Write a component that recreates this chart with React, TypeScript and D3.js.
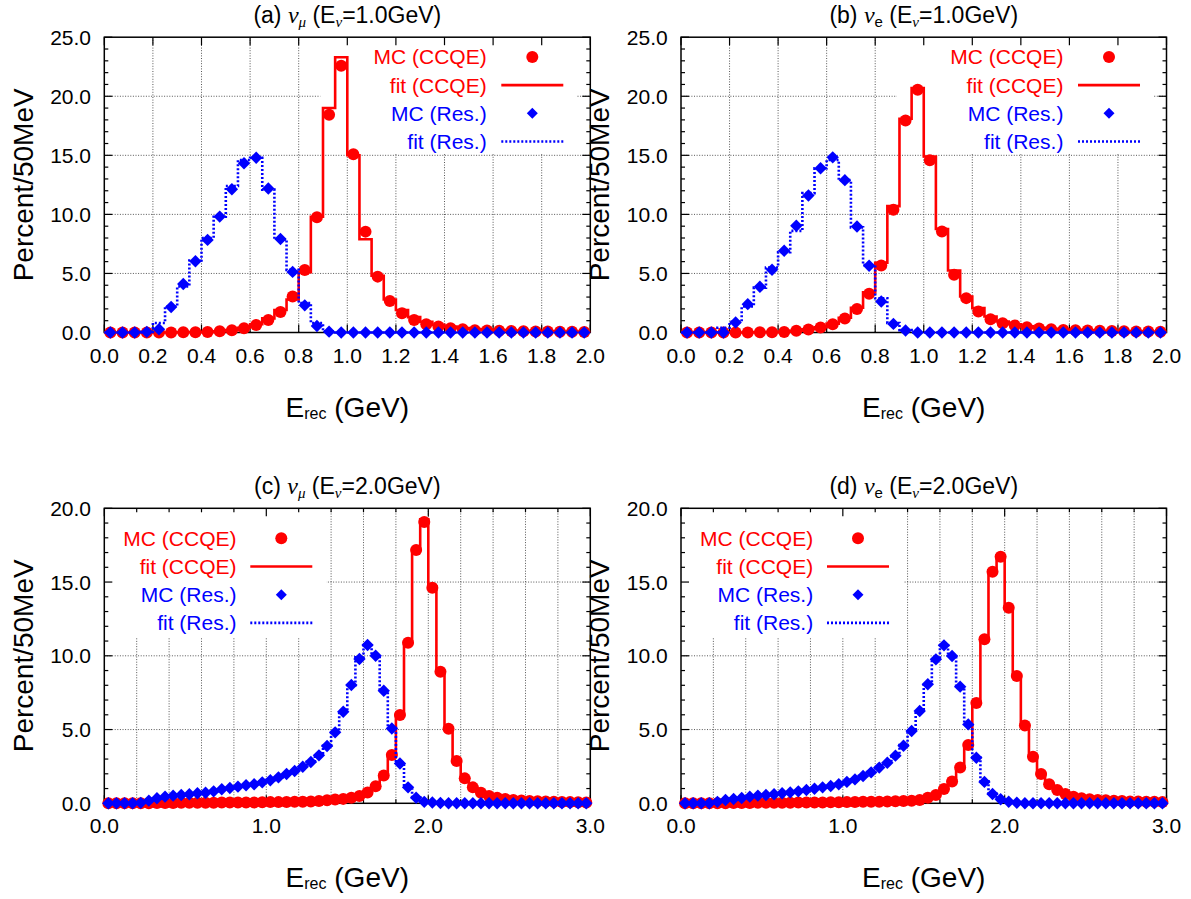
import React from 'react';
import * as d3 from 'd3';

// ---------------- data (percent per 50 MeV bin) ----------------
const binWidth = 0.05; // GeV

// (a) nu_mu, E=1.0 GeV  (40 bins, 0-2 GeV)
const mcCCQE_a = [0, 0, 0, 0, 0, 0, 0.02, 0.03, 0.05, 0.1, 0.2, 0.35, 0.64, 1.06, 1.74, 3.04, 5.3, 9.76, 18.43, 22.58,
  15.1, 8.54, 4.73, 2.67, 1.62, 1.06, 0.69, 0.5, 0.35, 0.27, 0.2, 0.17, 0.15, 0.12, 0.1, 0.09, 0.08, 0.07, 0.06, 0.05];
const fitCCQE_a = [0, 0, 0, 0, 0, 0, 0.02, 0.03, 0.05, 0.1, 0.2, 0.4, 0.7, 1.2, 1.9, 2.8, 5.1, 9.8, 19.0, 23.3,
  15.0, 7.9, 4.8, 2.8, 1.9, 1.3, 0.9, 0.65, 0.5, 0.38, 0.3, 0.25, 0.2, 0.17, 0.14, 0.12, 0.1, 0.09, 0.08, 0.07];
const mcRes_a = [0, 0, 0, 0.05, 0.27, 2.16, 4.11, 6.03, 7.84, 9.81, 12.13, 14.33, 14.8, 12.19, 7.92, 5.13, 2.3, 0.55, 0.07, 0,
  0, 0, 0, 0, 0, 0, 0, 0, 0, 0, 0, 0, 0, 0, 0, 0, 0, 0, 0, 0];
const fitRes_a = [0, 0, 0, 0.05, 0.8, 2.2, 3.9, 6.1, 8.0, 9.8, 12.4, 14.6, 14.8, 12.1, 7.9, 5.3, 2.5, 0.8, 0.1, 0,
  0, 0, 0, 0, 0, 0, 0, 0, 0, 0, 0, 0, 0, 0, 0, 0, 0, 0, 0, 0];

// (b) nu_e, E=1.0 GeV
const mcCCQE_b = [0, 0, 0, 0, 0, 0, 0.02, 0.03, 0.05, 0.14, 0.25, 0.42, 0.7, 1.19, 1.98, 3.28, 5.68, 10.4, 17.94, 20.56,
  14.58, 8.56, 4.89, 2.91, 1.78, 1.13, 0.79, 0.6, 0.45, 0.34, 0.28, 0.22, 0.19, 0.16, 0.14, 0.12, 0.1, 0.09, 0.08, 0.07];
const fitCCQE_b = [0, 0, 0, 0, 0, 0, 0.02, 0.03, 0.06, 0.15, 0.27, 0.45, 0.75, 1.25, 2.1, 3.4, 5.9, 10.7, 18.1, 20.7,
  14.9, 8.76, 5.25, 3.05, 2.06, 1.35, 0.93, 0.7, 0.52, 0.4, 0.32, 0.26, 0.22, 0.18, 0.15, 0.13, 0.11, 0.1, 0.09, 0.08];
const mcRes_b = [0, 0, 0, 0, 0.85, 2.4, 3.87, 5.31, 6.92, 9.04, 11.6, 13.9, 14.83, 12.9, 8.98, 5.65, 2.63, 0.73, 0.17, 0,
  0, 0, 0, 0, 0, 0, 0, 0, 0, 0, 0, 0, 0, 0, 0, 0, 0, 0, 0, 0];
const fitRes_b = [0, 0, 0, 0.4, 0.9, 2.2, 3.8, 5.5, 6.8, 8.6, 11.8, 13.9, 14.6, 12.9, 8.9, 5.7, 2.9, 0.8, 0.2, 0,
  0, 0, 0, 0, 0, 0, 0, 0, 0, 0, 0, 0, 0, 0, 0, 0, 0, 0, 0, 0];

// (c) nu_mu, E=2.0 GeV (60 bins, 0-3 GeV)
const mcCCQE_c = [0, 0, 0, 0, 0.01, 0.01, 0.02, 0.02, 0.02, 0.03, 0.03, 0.03, 0.04, 0.04, 0.05, 0.05, 0.05, 0.06, 0.06, 0.07,
  0.08, 0.08, 0.09, 0.1, 0.11, 0.13, 0.16, 0.2, 0.25, 0.3, 0.37, 0.5, 0.74, 1.16, 1.88, 3.27, 5.99, 10.89, 17.17, 19.07,
  14.62, 8.92, 5.06, 2.87, 1.69, 1.08, 0.72, 0.5, 0.38, 0.29, 0.22, 0.19, 0.16, 0.14, 0.12, 0.1, 0.09, 0.08, 0.07, 0.06];
const fitCCQE_c = [0, 0, 0, 0, 0.01, 0.01, 0.02, 0.02, 0.02, 0.03, 0.03, 0.03, 0.04, 0.04, 0.05, 0.05, 0.05, 0.06, 0.06, 0.07,
  0.08, 0.08, 0.09, 0.1, 0.11, 0.13, 0.16, 0.2, 0.25, 0.31, 0.38, 0.52, 0.76, 1.18, 1.9, 3.3, 6.0, 10.9, 17.2, 19.25,
  14.7, 8.95, 5.1, 2.9, 1.72, 1.1, 0.74, 0.52, 0.39, 0.3, 0.23, 0.2, 0.17, 0.14, 0.12, 0.1, 0.09, 0.08, 0.07, 0.06];
const mcRes_c = [0, 0, 0, 0, 0.03, 0.18, 0.34, 0.45, 0.52, 0.56, 0.61, 0.68, 0.72, 0.81, 0.95, 1.04, 1.13, 1.22, 1.29, 1.42,
  1.56, 1.76, 1.99, 2.19, 2.48, 2.8, 3.25, 3.88, 4.81, 6.21, 8.02, 9.78, 10.73, 10.0, 7.63, 5.07, 2.7, 1.08, 0.38, 0.1,
  0.05, 0.02, 0, 0, 0, 0, 0, 0, 0, 0, 0, 0, 0, 0, 0, 0, 0, 0, 0, 0];
const fitRes_c = [0, 0, 0, 0, 0.08, 0.2, 0.33, 0.44, 0.5, 0.56, 0.62, 0.68, 0.74, 0.82, 0.93, 1.03, 1.12, 1.2, 1.3, 1.43,
  1.57, 1.75, 1.97, 2.2, 2.5, 2.82, 3.3, 3.9, 4.85, 6.2, 8.0, 9.9, 10.7, 10.0, 7.6, 5.1, 2.75, 1.1, 0.4, 0.12,
  0.05, 0.02, 0, 0, 0, 0, 0, 0, 0, 0, 0, 0, 0, 0, 0, 0, 0, 0, 0, 0];

// (d) nu_e, E=2.0 GeV
const mcCCQE_d = [0, 0, 0, 0, 0.01, 0.01, 0.02, 0.02, 0.02, 0.03, 0.03, 0.03, 0.04, 0.04, 0.05, 0.05, 0.06, 0.06, 0.07, 0.07,
  0.08, 0.09, 0.1, 0.1, 0.11, 0.12, 0.14, 0.15, 0.18, 0.22, 0.38, 0.56, 0.97, 1.47, 2.43, 3.95, 6.8, 11.12, 15.7, 16.72,
  13.26, 8.63, 5.27, 3.16, 1.99, 1.29, 0.9, 0.63, 0.45, 0.34, 0.27, 0.22, 0.2, 0.18, 0.15, 0.13, 0.12, 0.1, 0.1, 0.08];
const fitCCQE_d = [0, 0, 0, 0, 0.01, 0.01, 0.02, 0.02, 0.02, 0.03, 0.03, 0.03, 0.04, 0.04, 0.05, 0.05, 0.06, 0.06, 0.07, 0.07,
  0.08, 0.09, 0.1, 0.1, 0.11, 0.12, 0.14, 0.16, 0.19, 0.24, 0.4, 0.58, 1.0, 1.5, 2.45, 4.0, 6.85, 11.2, 15.8, 16.8,
  13.3, 8.7, 5.3, 3.2, 2.0, 1.3, 0.92, 0.64, 0.46, 0.35, 0.28, 0.23, 0.2, 0.18, 0.15, 0.13, 0.12, 0.1, 0.1, 0.08];
const mcRes_d = [0, 0, 0, 0, 0.1, 0.22, 0.29, 0.36, 0.45, 0.52, 0.56, 0.61, 0.68, 0.74, 0.81, 0.9, 0.99, 1.08, 1.17, 1.29,
  1.45, 1.62, 1.85, 2.1, 2.42, 2.75, 3.23, 3.9, 4.9, 6.26, 8.07, 9.76, 10.71, 9.99, 7.91, 5.35, 3.09, 1.45, 0.63, 0.27,
  0.11, 0.04, 0, 0, 0, 0, 0, 0, 0, 0, 0, 0, 0, 0, 0, 0, 0, 0, 0, 0];
const fitRes_d = [0, 0, 0, 0.02, 0.12, 0.23, 0.3, 0.37, 0.45, 0.52, 0.57, 0.62, 0.68, 0.75, 0.82, 0.9, 0.99, 1.08, 1.18, 1.3,
  1.46, 1.63, 1.86, 2.12, 2.43, 2.78, 3.25, 3.95, 4.95, 6.3, 8.1, 9.8, 10.7, 10.0, 7.9, 5.4, 3.1, 1.5, 0.65, 0.28,
  0.12, 0.04, 0, 0, 0, 0, 0, 0, 0, 0, 0, 0, 0, 0, 0, 0, 0, 0, 0, 0];

// tick values
const xTicks1 = [0, 0.2, 0.4, 0.6, 0.8, 1.0, 1.2, 1.4, 1.6, 1.8, 2.0];
const xTicks2 = [0, 1, 2, 3];
const xMinor2 = [0.2, 0.4, 0.6, 0.8, 1.2, 1.4, 1.6, 1.8, 2.2, 2.4, 2.6, 2.8];
const yTicks1 = [0, 5, 10, 15, 20, 25];
const yTicks2 = [0, 5, 10, 15, 20];

const legendLabels = ['MC (CCQE)', 'fit (CCQE)', 'MC (Res.)', 'fit (Res.)'];

const RED = '#ff0000';
const BLUE = '#0000ff';
const FONT = '"Liberation Sans", Arial, Helvetica, sans-serif';
const SERIF = '"Liberation Serif", "Times New Roman", serif';

type Cfg = {
  key: string; sub: string; subItalic: boolean; energy: string;
  left: number; top: number; width: number; height: number;
  xMax: number; yMax: number; xTicks: number[]; xMinor: number[]; yTicks: number[];
  box: [number, number, number, number]; // rel x0, x1, y0, y1
  legTextX: number; legSampleX: number; legY0: number;
  mcC: number[]; fitC: number[]; mcR: number[]; fitR: number[];
};

const panels: Cfg[] = [
  { key: 'a', sub: 'μ', subItalic: true, energy: '1.0', left: 104.3, top: 37.2, width: 486, height: 295.3, xMax: 2, yMax: 25,
    xTicks: xTicks1, xMinor: [], yTicks: yTicks1, box: [216, 472, 0, 116], legTextX: 382.4, legSampleX: 428, legY0: 19.7,
    mcC: mcCCQE_a, fitC: fitCCQE_a, mcR: mcRes_a, fitR: fitRes_a },
  { key: 'b', sub: 'e', subItalic: false, energy: '1.0', left: 681, top: 37.2, width: 485.5, height: 295.3, xMax: 2, yMax: 25,
    xTicks: xTicks1, xMinor: [], yTicks: yTicks1, box: [216, 472, 0, 116], legTextX: 382.4, legSampleX: 428, legY0: 19.7,
    mcC: mcCCQE_b, fitC: fitCCQE_b, mcR: mcRes_b, fitR: fitRes_b },
  { key: 'c', sub: 'μ', subItalic: true, energy: '2.0', left: 104.3, top: 508.3, width: 486, height: 295, xMax: 3, yMax: 20,
    xTicks: xTicks2, xMinor: xMinor2, yTicks: yTicks2, box: [0, 222.4, 0, 129], legTextX: 132.2, legSampleX: 177, legY0: 30,
    mcC: mcCCQE_c, fitC: fitCCQE_c, mcR: mcRes_c, fitR: fitRes_c },
  { key: 'd', sub: 'e', subItalic: false, energy: '2.0', left: 681, top: 508.3, width: 485.5, height: 295, xMax: 3, yMax: 20,
    xTicks: xTicks2, xMinor: xMinor2, yTicks: yTicks2, box: [0, 222.4, 0, 129], legTextX: 132.2, legSampleX: 177, legY0: 30,
    mcC: mcCCQE_d, fitC: fitCCQE_d, mcR: mcRes_d, fitR: fitRes_d },
];

const diamond = (r: number) => `M0,${-r}L${r},0L0,${r}L${-r},0Z`;

function Panel({ c }: { c: Cfg }) {
  const x = d3.scaleLinear().domain([0, c.xMax]).range([c.left, c.left + c.width]);
  const y = d3.scaleLinear().domain([0, c.yMax]).range([c.top + c.height, c.top]);
  const bottom = c.top + c.height;
  const right = c.left + c.width;
  const cx = (c.left + right) / 2;
  const cy = (c.top + bottom) / 2;

  const step = (vals: number[]) => {
    const pts: [number, number][] = vals.map((v, i) => [i * binWidth, v]);
    pts.push([vals.length * binWidth, vals[vals.length - 1]]);
    return d3.line<[number, number]>().x(d => x(d[0])).y(d => y(d[1])).curve(d3.curveStepAfter)(pts) || '';
  };
  const centers = (vals: number[]) => vals.map((v, i) => ({ xv: (i + 0.5) * binWidth, v }));

  const gridX = [...c.xTicks, ...c.xMinor].filter(v => v > 0 && v < c.xMax);
  const gridY = c.yTicks.filter(v => v > 0 && v < c.yMax);
  const yMinor = d3.range(1, c.yMax).filter(v => v % 5 !== 0);

  const gridStyle = { stroke: '#444', strokeWidth: 0.9, strokeDasharray: '1,1.6' };
  const rowGap = 28.2;
  const lx = c.left + c.legTextX;
  const sx = c.left + c.legSampleX;

  return (
    <g>
      {/* grid */}
      {gridX.map(v => <line key={'gx' + v} x1={x(v)} x2={x(v)} y1={c.top} y2={bottom} {...gridStyle} />)}
      {gridY.map(v => <line key={'gy' + v} x1={c.left} x2={right} y1={y(v)} y2={y(v)} {...gridStyle} />)}
      {/* legend background */}
      <rect x={c.left + c.box[0]} y={c.top + c.box[2]} width={c.box[1] - c.box[0]} height={c.box[3] - c.box[2]} fill="#fff" />
      {/* border */}
      <rect x={c.left} y={c.top} width={c.width} height={c.height} fill="none" stroke="#000" strokeWidth={1.5} />
      {/* ticks */}
      {c.xTicks.map(v => (
        <g key={'xt' + v}>
          <line x1={x(v)} x2={x(v)} y1={bottom} y2={bottom - 8} stroke="#000" strokeWidth={1.2} />
          <line x1={x(v)} x2={x(v)} y1={c.top} y2={c.top + 8} stroke="#000" strokeWidth={1.2} />
          <text x={x(v)} y={bottom + 30} textAnchor="middle" fontSize={21} fontFamily={FONT}>{v.toFixed(1)}</text>
        </g>
      ))}
      {c.xMinor.map(v => (
        <g key={'xm' + v}>
          <line x1={x(v)} x2={x(v)} y1={bottom} y2={bottom - 4} stroke="#000" strokeWidth={1.2} />
          <line x1={x(v)} x2={x(v)} y1={c.top} y2={c.top + 4} stroke="#000" strokeWidth={1.2} />
        </g>
      ))}
      {c.yTicks.map(v => (
        <g key={'yt' + v}>
          <line x1={c.left} x2={c.left + 8} y1={y(v)} y2={y(v)} stroke="#000" strokeWidth={1.2} />
          <line x1={right} x2={right - 8} y1={y(v)} y2={y(v)} stroke="#000" strokeWidth={1.2} />
          <text x={c.left - 13.3} y={y(v)} dy="0.36em" textAnchor="end" fontSize={21} fontFamily={FONT}>{v.toFixed(1)}</text>
        </g>
      ))}
      {yMinor.map(v => (
        <g key={'ym' + v}>
          <line x1={c.left} x2={c.left + 4} y1={y(v)} y2={y(v)} stroke="#000" strokeWidth={1.2} />
          <line x1={right} x2={right - 4} y1={y(v)} y2={y(v)} stroke="#000" strokeWidth={1.2} />
        </g>
      ))}
      {/* data */}
      {centers(c.mcC).map((d, i) => <circle key={'mc' + i} cx={x(d.xv)} cy={y(d.v)} r={6} fill={RED} />)}
      <path d={step(c.fitC)} fill="none" stroke={RED} strokeWidth={2.6} />
      {centers(c.mcR).map((d, i) => <path key={'mr' + i} transform={`translate(${x(d.xv)},${y(d.v)})`} d={diamond(6.2)} fill={BLUE} />)}
      <path d={step(c.fitR)} fill="none" stroke={BLUE} strokeWidth={2.6} strokeDasharray="2,2" />
      {/* legend */}
      {legendLabels.map((t, i) => (
        <text key={'lg' + i} x={lx} y={c.top + c.legY0 + i * rowGap} dy="0.36em" textAnchor="end" fontSize={21}
          fontFamily={FONT} fill={i < 2 ? RED : BLUE}>{t}</text>
      ))}
      <circle cx={sx} cy={c.top + c.legY0} r={6} fill={RED} />
      <line x1={sx - 31} x2={sx + 31} y1={c.top + c.legY0 + rowGap} y2={c.top + c.legY0 + rowGap} stroke={RED} strokeWidth={2.6} />
      <path transform={`translate(${sx},${c.top + c.legY0 + 2 * rowGap})`} d={diamond(5.5)} fill={BLUE} />
      <line x1={sx - 31} x2={sx + 31} y1={c.top + c.legY0 + 3 * rowGap} y2={c.top + c.legY0 + 3 * rowGap} stroke={BLUE} strokeWidth={2.6} strokeDasharray="2,2" />
      {/* title */}
      <text x={cx} y={c.top - 14.5} textAnchor="middle" fontSize={23} fontFamily={FONT}>
        <tspan>{`(${c.key}) `}</tspan>
        <tspan fontFamily={SERIF} fontStyle="italic" fontSize={24}>ν</tspan>
        <tspan fontSize={15} dy={4} fontFamily={c.subItalic ? SERIF : FONT} fontStyle={c.subItalic ? 'italic' : 'normal'}>{c.sub}</tspan>
        <tspan dy={-4}>{' (E'}</tspan>
        <tspan fontSize={15} dy={4} fontFamily={SERIF} fontStyle="italic">ν</tspan>
        <tspan dy={-4}>{`=${c.energy}GeV)`}</tspan>
      </text>
      {/* axis labels */}
      <text x={cx} y={bottom + 84} textAnchor="middle" fontSize={28} fontFamily={FONT}>
        <tspan>E</tspan>
        <tspan fontSize={16} dy={2}>rec</tspan>
        <tspan dy={-2}>{' (GeV)'}</tspan>
      </text>
      <text transform={`translate(${c.left - 71.6},${cy}) rotate(-90)`} textAnchor="middle" fontSize={28} fontFamily={FONT}>Percent/50MeV</text>
    </g>
  );
}

export default function App() {
  return (
    <svg width={1191} height={899} style={{ position: 'absolute', left: 0, top: 0, background: '#fff' }}>
      <rect x={0} y={0} width={1191} height={899} fill="#fff" />
      {panels.map(c => <Panel key={c.key} c={c} />)}
    </svg>
  );
}
